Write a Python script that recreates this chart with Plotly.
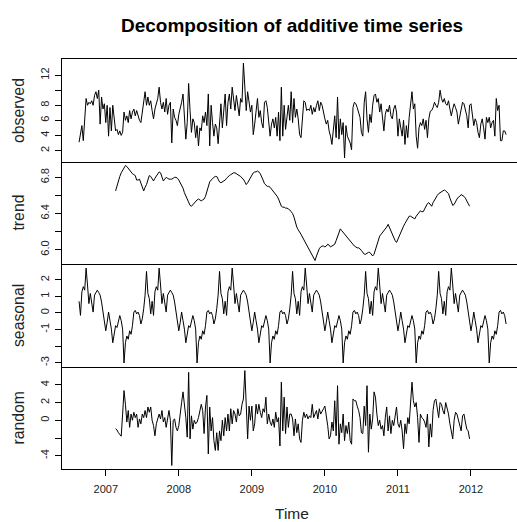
import plotly.graph_objects as go

# Weekly series, frequency 52, first observation in week 34 of 2006
start_year = 2006
start_week = 34
freq = 52

observed = [
    3.1, 4.1, 5.3, 3.3, 5.7, 8.9, 8.0, 8.4, 8.2, 8.6,
    8.0, 9.3, 9.8, 8.9, 10.0, 5.5, 9.1, 7.5, 8.2, 5.7,
    8.0, 3.9, 7.7, 4.6, 8.0, 6.2, 4.6, 4.8, 4.1, 4.6,
    4.0, 4.4, 7.1, 6.0, 6.6, 5.7, 7.3, 6.2, 7.1, 7.5,
    6.6, 7.3, 6.6, 6.0, 5.7, 7.1, 8.0, 9.8, 8.0, 9.1,
    8.0, 8.6, 7.3, 6.2, 7.5, 8.4, 8.9, 10.4, 8.4, 7.5,
    8.4, 7.1, 8.9, 6.8, 8.0, 8.4, 3.0, 7.5, 6.4, 6.0,
    5.3, 6.8, 7.5, 8.4, 9.5, 6.4, 3.5, 5.7, 10.9, 7.3,
    4.4, 6.2, 5.7, 3.7, 5.3, 2.6, 5.0, 4.6, 6.6, 5.7,
    7.1, 5.3, 9.5, 2.6, 8.0, 5.7, 3.9, 5.5, 5.0, 2.9,
    6.4, 8.2, 5.0, 7.5, 9.5, 5.3, 8.4, 9.5, 7.5, 10.4,
    8.9, 7.3, 9.3, 8.0, 6.6, 8.9, 8.4, 13.6, 10.2, 7.3,
    9.8, 8.0, 7.1, 8.0, 4.1, 5.5, 7.1, 8.9, 6.4, 7.3,
    5.7, 5.0, 8.4, 8.6, 7.7, 5.7, 3.9, 5.5, 6.2, 5.0,
    6.4, 3.9, 7.1, 3.3, 10.4, 3.9, 8.0, 4.8, 6.2, 8.0,
    6.0, 9.8, 5.7, 8.9, 6.4, 7.5, 6.2, 4.1, 3.7, 6.2,
    8.6, 8.4, 7.3, 7.5, 7.3, 8.0, 6.8, 7.7, 7.1, 8.0,
    8.6, 7.3, 8.4, 8.0, 6.8, 6.2, 5.5, 6.0, 4.6, 3.9,
    2.8, 5.0, 6.6, 3.7, 9.1, 3.5, 6.2, 4.1, 5.7, 1.0,
    5.3, 3.9, 3.5, 3.0, 2.1, 7.7, 8.4, 8.2, 7.7, 7.1,
    6.4, 4.4, 3.9, 8.4, 9.8, 6.2, 4.4, 6.8, 5.7, 8.0,
    9.3, 9.5, 8.4, 8.9, 7.1, 8.2, 6.2, 4.6, 6.8, 7.5,
    7.1, 8.0, 6.6, 6.2, 7.5, 8.0, 7.1, 3.9, 6.2, 4.8,
    3.9, 6.0, 2.8, 5.3, 3.7, 6.4, 8.4, 9.8, 7.5, 8.2,
    3.9, 2.3, 5.0, 5.7, 5.3, 6.2, 4.8, 6.0, 3.7, 6.2,
    7.2, 7.3, 7.7, 8.4, 8.0, 7.7, 8.4, 10.0, 8.9, 8.4,
    8.9, 8.2, 8.0, 8.6, 7.5, 6.6, 7.5, 8.2, 7.7, 7.1,
    5.5, 6.6, 7.3, 8.4, 8.2, 7.5, 6.6, 5.0, 8.0, 8.2,
    6.8, 5.3, 6.2, 5.7, 4.4, 3.7, 5.5, 6.2, 5.0, 3.5,
    6.4, 5.7, 6.4, 5.0, 5.7, 6.0, 3.9, 8.9, 7.3, 8.0,
    3.3, 3.3, 4.6, 4.6, 4.1,
]

# Centred 52-week moving average (half a year missing at each end)
trend = [
    6.65, 6.71, 6.77, 6.81, 6.85, 6.88, 6.91, 6.93, 6.92, 6.90,
    6.87, 6.85, 6.84, 6.83, 6.82, 6.77, 6.77, 6.78, 6.74, 6.68,
    6.65, 6.69, 6.72, 6.77, 6.82, 6.81, 6.78, 6.76, 6.79, 6.81,
    6.83, 6.86, 6.85, 6.80, 6.76, 6.78, 6.80, 6.79, 6.78, 6.78,
    6.78, 6.79, 6.80, 6.80, 6.79, 6.77, 6.74, 6.72, 6.68, 6.63,
    6.59, 6.55, 6.52, 6.49, 6.48, 6.50, 6.52, 6.53, 6.55, 6.56,
    6.55, 6.54, 6.55, 6.56, 6.59, 6.65, 6.72, 6.75, 6.77, 6.79,
    6.80, 6.81, 6.81, 6.78, 6.75, 6.74, 6.75, 6.76, 6.77, 6.79,
    6.81, 6.82, 6.83, 6.84, 6.85, 6.85, 6.84, 6.83, 6.82, 6.81,
    6.79, 6.78, 6.75, 6.72, 6.74, 6.77, 6.80, 6.82, 6.85, 6.86,
    6.86, 6.87, 6.86, 6.84, 6.81, 6.77, 6.73, 6.71, 6.70, 6.70,
    6.69, 6.67, 6.65, 6.64, 6.62, 6.59, 6.56, 6.52, 6.48, 6.47,
    6.47, 6.46, 6.46, 6.45, 6.44, 6.42, 6.40, 6.36, 6.30, 6.25,
    6.22, 6.20, 6.17, 6.14, 6.11, 6.08, 6.06, 6.03, 6.00, 5.97,
    5.94, 5.91, 5.88, 5.93, 5.98, 6.01, 6.03, 6.04, 6.04, 6.03,
    6.04, 6.06, 6.05, 6.03, 6.04, 6.05, 6.06, 6.10, 6.15, 6.20,
    6.23, 6.21, 6.19, 6.17, 6.15, 6.13, 6.11, 6.09, 6.07, 6.06,
    6.04, 6.03, 6.02, 6.02, 6.01, 5.99, 5.97, 5.95, 5.95, 5.96,
    5.97, 5.97, 5.95, 5.93, 5.95, 6.00, 6.04, 6.10, 6.15, 6.17,
    6.19, 6.20, 6.22, 6.25, 6.28, 6.24, 6.20, 6.17, 6.13, 6.10,
    6.08, 6.12, 6.16, 6.20, 6.23, 6.26, 6.29, 6.32, 6.35, 6.37,
    6.37, 6.36, 6.35, 6.34, 6.37, 6.39, 6.42, 6.43, 6.42, 6.42,
    6.45, 6.48, 6.51, 6.52, 6.50, 6.48, 6.52, 6.55, 6.58, 6.60,
    6.62, 6.63, 6.64, 6.65, 6.66, 6.65, 6.64, 6.62, 6.57, 6.52,
    6.49, 6.50, 6.54, 6.56, 6.58, 6.59, 6.61, 6.60, 6.59, 6.57,
    6.54, 6.51, 6.48,
]

# One year of the seasonal figure, beginning at week 34
seasonal_figure = [
    0.70, -0.15, 1.27, 1.58, 1.37, 2.70, 1.68, 0.56, 1.17, 0.66,
    0.05, 1.07, 1.27, 1.37, 1.23, 1.07, 0.66, 0.05, -0.77, -1.08,
    -0.57, 0.05, -0.47, -0.98, -1.80, -1.29, -0.77, -0.88, -0.57, -0.16,
    -0.47, -0.98, -3.02, -1.80, -1.39, -1.59, -1.08, -1.29, -0.77, 0.05,
    0.15, -0.06, 0.05, -0.16, -0.67, -0.36, 0.25, 1.07, 2.50, 1.17,
    0.86, -0.06,
]

random_part = [
    -0.95, -1.1, -1.4, -1.6, -1.8, 0.7, 3.35, 1.8, -0.2, 1.1,
    -0.8, 0.7, 0.0, 0.9, 0.3, 0.7, -0.8, 0.15, -0.4, 0.7,
    0.3, 1.1, 0.3, 1.5, 0.9, 1.5, 0.0, -0.6, -1.75, -0.4,
    0.15, 0.7, 0.15, 1.1, -0.2, 0.3, -0.8, 0.3, 1.1, 0.0,
    -5.1, 0.0, 0.15, -0.8, -1.2, -0.6, 1.1, 2.0, 3.2, 1.8,
    0.3, -1.9, 5.4, -2.1, 0.5, -1.0, 0.0, -0.4, -0.2, 0.3,
    1.3, 1.8, 1.1, -1.5, 1.5, 2.8, -3.8, 1.5, -1.2, 0.3,
    -2.3, -3.4, -1.4, -3.4, -1.2, -2.3, 0.0, -1.75, 0.3, -1.2,
    0.7, -1.2, 1.3, -0.4, 1.1, 0.7, -0.2, 1.3, 0.5, 0.7,
    1.8, 2.4, 5.6, 0.7, -2.1, 1.6, 0.0, 1.6, -1.2, -0.4,
    1.8, 0.7, 1.8, 0.9, 0.3, 1.3, 0.9, 2.6, -0.4, 0.7,
    -0.2, -0.6, 0.15, -0.8, 0.9, -0.2, 0.3, -2.9, 4.3, -1.2,
    2.6, -1.5, 1.5, -0.8, 0.7, 0.7, 0.15, -1.75, 0.15, -1.4,
    -0.4, -2.1, -2.5, 0.0, 0.9, 0.3, 0.7, 0.15, 0.5, 0.3,
    1.8, 0.3, 0.7, 1.1, 0.15, 1.3, 0.7, 1.1, 1.3, 1.6,
    0.7, -0.6, -2.1, -1.75, -0.2, -1.2, 2.2, -1.75, 3.9, -2.7,
    -0.4, -1.4, 0.7, -2.3, -0.6, -1.5, -0.2, -2.3, -2.7, 2.4,
    2.2, 2.2, 1.6, 1.1, 0.3, -1.4, -1.5, 1.6, -0.6, 3.9,
    -3.6, 0.7, -1.0, 0.15, 3.2, 2.6, 0.7, -0.6, 0.0, -1.0,
    -0.6, -1.75, 0.3, 1.5, -1.2, 0.5, -1.5, 0.0, -0.6, 0.5,
    1.5, -0.4, -0.8, 0.0, -1.2, -3.2, -0.4, -1.5, 0.3, -0.4,
    1.5, 4.3, 2.2, 1.5, 2.0, 0.3, -2.5, 0.7, 0.3, 0.15,
    -0.2, -0.8, 0.7, -3.0, -0.4, -1.9, 1.1, 2.2, 2.4, 1.1,
    0.3, 2.0, 1.8, 1.1, 0.7, 2.0, 1.3, 0.7, -0.4, -1.2,
    -2.1, 0.0, 0.9, 0.7, 0.15, -0.6, -1.2, 0.5, 0.7, -0.2,
    -1.0, -1.2, -2.1,
]

year_ticks = [2007, 2008, 2009, 2010, 2011, 2012]

panel_names = ["observed", "trend", "seasonal", "random"]
panel_ticks = [
    ([2, 4, 6, 8, 10, 12], ["2", "4", "6", "8", "", "12"]),
    ([6.0, 6.2, 6.4, 6.6, 6.8], ["6.0", "", "6.4", "", "6.8"]),
    ([-3, -2, -1, 0, 1, 2], ["-3", "", "-1", "0", "1", "2"]),
    ([-4, -2, 0, 2, 4], ["-4", "", "0", "2", "4"]),
]

# time index
n = len(observed)
time = [start_year + (start_week - 1 + k) / freq for k in range(n)]
half = freq // 2
inner_time = time[half:n - half]
seasonal = [seasonal_figure[k % freq] for k in range(n)]

series = [
    (time, observed),
    (inner_time, trend),
    (time, seasonal),
    (inner_time, random_part),
]

W, H = 517, 522
FONT = "Liberation Sans, Arial, sans-serif"

# panel frame in pixels
left_px = 62.3
panel_top = [59.3, 161.8, 264.3, 366.8]
panel_h = 102.5


def py(p):
    return 1 - p / H


fig = go.Figure()
x_range = [2006.405, 2012.63]

for k, (tx, vals) in enumerate(series):
    sfx = "" if k == 0 else str(k + 1)
    fig.add_trace(go.Scatter(
        x=tx, y=vals, mode="lines",
        line=dict(color="black", width=1),
        xaxis="x" + sfx, yaxis="y" + sfx,
        showlegend=False, hoverinfo="skip",
    ))
    lo, hi = min(vals), max(vals)
    pad = 0.04 * (hi - lo)
    top = panel_top[k]
    bottom = top + panel_h
    last = k == 3
    tv, tt = panel_ticks[k]
    # each panel draws its own bottom edge; only the first also draws the top
    fig.layout["xaxis" + sfx] = dict(
        domain=[left_px / W, 1], range=x_range, anchor="y" + sfx,
        showline=True, linecolor="black", linewidth=1,
        mirror=(k == 0),
        showgrid=False, zeroline=False,
        tickvals=year_ticks if last else [],
        ticktext=[str(y) for y in year_ticks] if last else [],
        ticks="outside" if last else "", ticklen=6, tickwidth=1,
        tickcolor="black", showticklabels=last,
        ticklabelstandoff=3,
        tickfont=dict(family=FONT, size=11, color="#222"),
    )
    fig.layout["yaxis" + sfx] = dict(
        domain=[py(bottom), py(top)], range=[lo - pad, hi + pad],
        anchor="x" + sfx,
        showline=True, linecolor="black", linewidth=1, mirror=False,
        showgrid=False, zeroline=False,
        tickvals=tv, ticktext=tt, ticks="outside", ticklen=6,
        tickwidth=1, tickcolor="black", tickangle=-90,
        ticklabelstandoff=2,
        tickfont=dict(family=FONT, size=11, color="#222"),
    )
    fig.add_annotation(
        text=panel_names[k], textangle=-90,
        x=18.5 / W, y=py(top + panel_h / 2), xref="paper", yref="paper",
        xanchor="center", yanchor="middle", showarrow=False,
        font=dict(family=FONT, size=15.8, color="#222"),
    )

fig.add_annotation(
    text="<b>Decomposition of additive time series</b>",
    x=291.5 / W, y=py(25.5), xref="paper", yref="paper",
    xanchor="center", yanchor="middle", showarrow=False,
    font=dict(family=FONT, size=19, color="black"),
)
fig.add_annotation(
    text="Time", x=292 / W, y=py(513), xref="paper", yref="paper",
    xanchor="center", yanchor="middle", showarrow=False,
    font=dict(family=FONT, size=15.5, color="#222"),
)

fig.update_layout(
    width=W, height=H,
    margin=dict(l=0, r=0, t=0, b=0),
    paper_bgcolor="white", plot_bgcolor="white",
)

fig.write_html("out.html")
